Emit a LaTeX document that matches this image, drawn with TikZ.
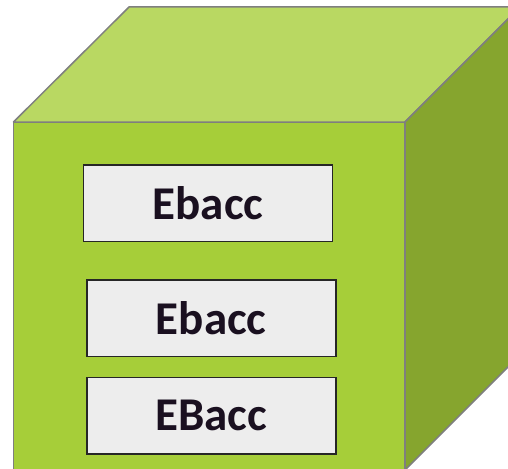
\documentclass[tikz,border=0pt]{standalone}
\usepackage{fontspec}
\setmainfont{Carlito}
\usetikzlibrary{positioning}
\definecolor{cubetop}{HTML}{B9D862}
\definecolor{cubefront}{HTML}{A6CE39}
\definecolor{cubeside}{HTML}{86A52E}
\definecolor{cubeedge}{HTML}{7F7F7F}
\definecolor{boxfill}{HTML}{EDEDED}
\definecolor{boxtext}{HTML}{1A1020}
\begin{document}
\begin{tikzpicture}[x=1pt, y=-1pt,
  face/.style={draw=cubeedge, line width=1.5pt, line join=round},
  qualbox/.style={draw=black!85, line width=1.5pt, fill=boxfill, minimum width=249pt, minimum height=76.5pt, inner sep=0pt, text=boxtext, font=\fontsize{47}{50}\selectfont\bfseries}]
\useasboundingbox (0,0) rectangle (508,468);
\clip (0,0) rectangle (508,468);
% cube
\path[face, fill=cubefront] (13.5,122) rectangle (405,470);
\path[face, fill=cubetop] (13.5,122) -- (129,7) -- (520,7) -- (405,122) -- cycle;
\path[face, fill=cubeside] (405,122) -- (520,7) -- (520,355) -- (405,470) -- cycle;
% boxes
\node[qualbox] (ebacc) at (208,203.3) {Ebacc};
\node[qualbox, below=37pt of ebacc, xshift=3.3pt] (ebaccmid) {Ebacc};
\node[qualbox, below=19.4pt of ebaccmid] (EBacc) {EBacc};
\end{tikzpicture}
\end{document}
